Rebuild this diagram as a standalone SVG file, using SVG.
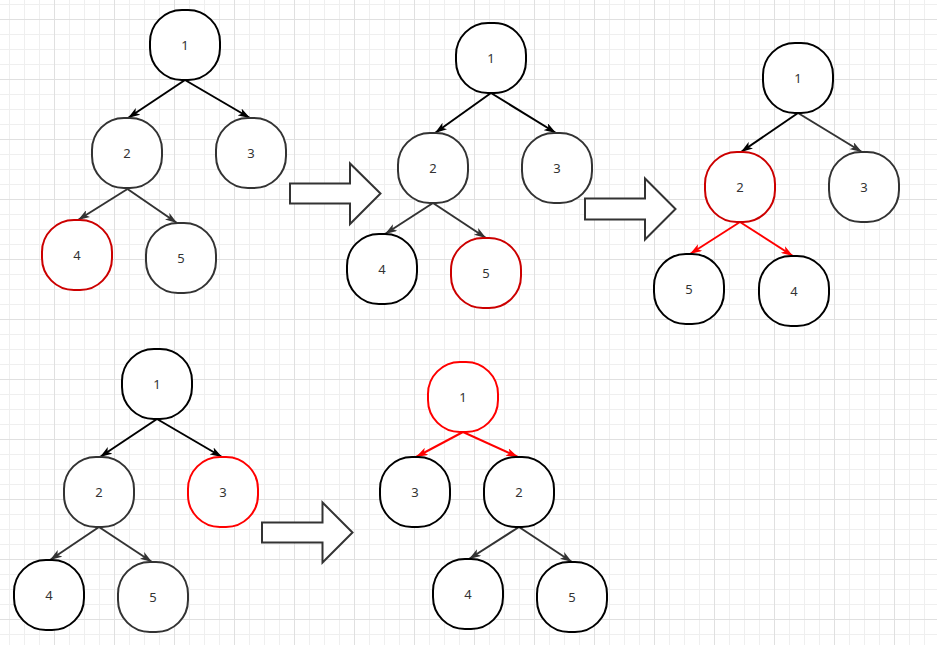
<svg xmlns="http://www.w3.org/2000/svg" width="937" height="645" viewBox="0 0 937 645">
<defs>
<pattern id="minor" patternUnits="userSpaceOnUse" x="9" y="4" width="15" height="15">
<path d="M0 0.5H15M0.5 0V15" fill="none" stroke="#efefef" stroke-width="1"/>
</pattern>
<pattern id="major" patternUnits="userSpaceOnUse" x="54" y="19" width="60" height="60">
<path d="M0 0.5H60M0.5 0V60" fill="none" stroke="#e0e0e0" stroke-width="1"/>
</pattern>
<marker id="mk" markerUnits="userSpaceOnUse" viewBox="0 0 12 8" refX="12" refY="4" markerWidth="12" markerHeight="8" orient="auto"><path d="M0,0 L12,4 L0,8 L3,4 z" fill="#000"/></marker>
<marker id="mg" markerUnits="userSpaceOnUse" viewBox="0 0 12 8" refX="12" refY="4" markerWidth="12" markerHeight="8" orient="auto"><path d="M0,0 L12,4 L0,8 L3,4 z" fill="#333"/></marker>
<marker id="mr" markerUnits="userSpaceOnUse" viewBox="0 0 12 8" refX="12" refY="4" markerWidth="12" markerHeight="8" orient="auto"><path d="M0,0 L12,4 L0,8 L3,4 z" fill="#f00"/></marker>
</defs>
<style>
.n{fill:#fff;stroke-width:2}
.k{stroke:#000}.g{stroke:#333}.dr{stroke:#c00}.r{stroke:#f00}
.t{font-family:"Noto Sans","Liberation Sans",sans-serif;font-size:13px;fill:#333;text-anchor:middle;dominant-baseline:central}
.e{fill:none;stroke-width:2}
.ek{stroke:#000;marker-end:url(#mk)}.eg{stroke:#333;marker-end:url(#mg)}.er{stroke:#f00;marker-end:url(#mr)}
.big{fill:#fff;stroke:#333;stroke-width:2}
</style>
<rect width="937" height="645" fill="#fff"/>
<rect width="937" height="645" fill="url(#minor)"/>
<rect width="937" height="645" fill="url(#major)"/>

<g id="connectors">
<line class="e ek" x1="185" y1="80" x2="128" y2="118"/>
<line class="e ek" x1="185" y1="80" x2="250" y2="118"/>
<line class="e eg" x1="127.5" y1="189" x2="78" y2="220"/>
<line class="e eg" x1="127.5" y1="189" x2="177" y2="223"/>

<line class="e ek" x1="491" y1="93" x2="435" y2="133"/>
<line class="e ek" x1="491" y1="93" x2="556" y2="133"/>
<line class="e eg" x1="433" y1="203" x2="385" y2="234"/>
<line class="e eg" x1="433" y1="203" x2="486" y2="238"/>

<line class="e ek" x1="798" y1="113" x2="741" y2="152"/>
<line class="e eg" x1="798" y1="113" x2="862" y2="152"/>
<line class="e er" x1="740" y1="222" x2="690" y2="254"/>
<line class="e er" x1="740" y1="222" x2="793" y2="256"/>

<line class="e ek" x1="157" y1="419" x2="100" y2="457"/>
<line class="e ek" x1="157" y1="419" x2="222" y2="457"/>
<line class="e eg" x1="99" y1="527" x2="50" y2="560"/>
<line class="e eg" x1="99" y1="527" x2="152" y2="562"/>

<line class="e er" x1="463" y1="432" x2="416" y2="457"/>
<line class="e er" x1="463" y1="432" x2="518" y2="457"/>
<line class="e eg" x1="519" y1="527" x2="469" y2="559"/>
<line class="e eg" x1="519" y1="527" x2="572" y2="562"/>
</g>

<g id="arrow1"><polygon class="big" points="290,183.5 350,183.5 350,163.5 380.5,193.5 350,224 350,203.5 290,203.5"/></g>
<g id="arrow2"><polygon class="big" points="585,198.5 645,198.5 645,178.5 675.5,209 645,239.5 645,219.5 585,219.5"/></g>
<g id="arrow3"><polygon class="big" points="262,522.5 322.5,522.5 322.5,502.5 352.5,532.5 322.5,562.5 322.5,542.5 262,542.5"/></g>

<g id="t1n1"><rect class="n k" x="150" y="10" width="70" height="70" rx="32"/><text class="t" x="185" y="45">1</text></g>
<g id="t1n2"><rect class="n g" x="92" y="118" width="70" height="70" rx="32"/><text class="t" x="127" y="153">2</text></g>
<g id="t1n3"><rect class="n g" x="216" y="118" width="70" height="70" rx="32"/><text class="t" x="251" y="153">3</text></g>
<g id="t1n4"><rect class="n dr" x="42" y="220" width="70" height="70" rx="32"/><text class="t" x="77" y="255">4</text></g>
<g id="t1n5"><rect class="n g" x="146" y="223" width="70" height="70" rx="32"/><text class="t" x="181" y="258">5</text></g>

<g id="t2n1"><rect class="n k" x="456" y="23" width="70" height="70" rx="32"/><text class="t" x="491" y="58">1</text></g>
<g id="t2n2"><rect class="n g" x="398" y="133" width="70" height="70" rx="32"/><text class="t" x="433" y="168">2</text></g>
<g id="t2n3"><rect class="n g" x="522" y="133" width="70" height="70" rx="32"/><text class="t" x="557" y="168">3</text></g>
<g id="t2n4"><rect class="n k" x="347" y="234" width="70" height="70" rx="32"/><text class="t" x="382" y="269">4</text></g>
<g id="t2n5"><rect class="n dr" x="451" y="238" width="70" height="70" rx="32"/><text class="t" x="486" y="273">5</text></g>

<g id="t3n1"><rect class="n k" x="763" y="43" width="70" height="70" rx="32"/><text class="t" x="798" y="78">1</text></g>
<g id="t3n2"><rect class="n dr" x="705" y="152" width="70" height="70" rx="32"/><text class="t" x="740" y="187">2</text></g>
<g id="t3n3"><rect class="n g" x="829" y="152" width="70" height="70" rx="32"/><text class="t" x="864" y="187">3</text></g>
<g id="t3n5"><rect class="n k" x="654" y="254" width="70" height="70" rx="32"/><text class="t" x="689" y="289">5</text></g>
<g id="t3n4"><rect class="n k" x="759" y="256" width="70" height="70" rx="32"/><text class="t" x="794" y="291">4</text></g>

<g id="t4n1"><rect class="n k" x="122" y="349" width="70" height="70" rx="32"/><text class="t" x="157" y="384">1</text></g>
<g id="t4n2"><rect class="n g" x="64" y="457" width="70" height="70" rx="32"/><text class="t" x="99" y="492">2</text></g>
<g id="t4n3"><rect class="n r" x="188" y="457" width="70" height="70" rx="32"/><text class="t" x="223" y="492">3</text></g>
<g id="t4n4"><rect class="n k" x="14" y="560" width="70" height="70" rx="32"/><text class="t" x="49" y="595">4</text></g>
<g id="t4n5"><rect class="n g" x="118" y="562" width="70" height="70" rx="32"/><text class="t" x="153" y="597">5</text></g>

<g id="t5n1"><rect class="n r" x="428" y="362" width="70" height="70" rx="32"/><text class="t" x="463" y="397">1</text></g>
<g id="t5n3"><rect class="n k" x="380" y="457" width="70" height="70" rx="32"/><text class="t" x="415" y="492">3</text></g>
<g id="t5n2"><rect class="n k" x="484" y="457" width="70" height="70" rx="32"/><text class="t" x="519" y="492">2</text></g>
<g id="t5n4"><rect class="n k" x="433" y="559" width="70" height="70" rx="32"/><text class="t" x="468" y="594">4</text></g>
<g id="t5n5"><rect class="n k" x="537" y="562" width="70" height="70" rx="32"/><text class="t" x="572" y="597">5</text></g>
</svg>
